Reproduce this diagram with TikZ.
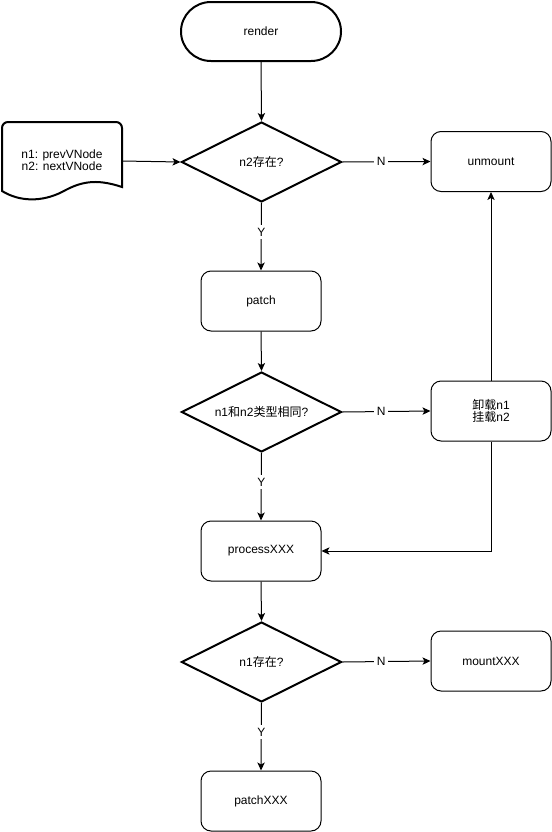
\documentclass[tikz,border=0pt]{standalone}
\usepackage{fontspec}
\setmainfont{Liberation Sans}
\newfontfamily\cjk{Noto Sans CJK SC}
\usetikzlibrary{shapes.geometric,arrows.meta}
\begin{document}
\begin{tikzpicture}[x=0.75pt,y=-0.75pt,
  font=\fontsize{9}{11}\selectfont,
  thin1/.style={line width=0.75pt},
  thick2/.style={line width=1.5pt},
  procbox/.style={draw,thin1,rounded corners=7.5pt,minimum width=90pt,minimum height=45pt,inner sep=0pt,align=center},
  decision/.style={draw,thick2,diamond,aspect=2,minimum width=120pt,minimum height=60pt,inner sep=0pt},
  conn/.style={thin1,-{Stealth[length=6pt,width=5.5pt,inset=1.5pt]}},
  lbl/.style={fill=white,inner sep=2pt}
]
\useasboundingbox (0,0) rectangle (552,832);
% terminal: draw as stadium path
\node (render) at (261,31.5) [minimum width=120pt,minimum height=44pt,inner sep=0pt] {render};
\draw[thick2] (211,2) -- (311,2) arc[start angle=90,end angle=-90,x radius=30,y radius=-29.5] -- (211,61) arc[start angle=-90,end angle=-270,x radius=30,y radius=-29.5] -- cycle;

% document shape
\node (doc) at (62,160.5) [minimum width=90pt,minimum height=59pt,inner sep=0pt,align=center] {n1: prevVNode\\[-2pt]n2: nextVNode};
\draw[thick2] (2,191) -- (2,128) arc[start angle=180,end angle=270,radius=6] -- (116,122) arc[start angle=270,end angle=360,radius=6] -- (122,187)
  .. controls (95,178) and (80,182) .. (62,192) .. controls (42,202) and (20,202) .. cycle;

\node[decision] (d1) at (261.5,162) {n2{\cjk 存在}?};
\node[procbox] (unmount) at (491,161.5) {unmount};
\node[procbox] (patch) at (261,301) {patch};
\node[decision] (d2) at (261.5,412) {n1{\cjk 和}n2{\cjk 类型相同}?};
\node[procbox] (swap) at (491,411) {{\cjk 卸载}n1\\[-2pt]{\cjk 挂载}n2};
\node[procbox] (proc) at (261,551) {processXXX};
\node[decision] (d3) at (261.5,662) {n1{\cjk 存在}?};
\node[procbox] (mount) at (491,661) {mountXXX};
\node[procbox] (patchx) at (261,801) {patchXXX};

\draw[conn] (261,61) -- (d1.north);
\draw[conn] (122,161) -- (d1.west);
\draw[conn] (d1.east) -- node[lbl,pos=0.44] {N} (unmount.west);
\draw[conn] (d1.south) -- node[lbl,pos=0.43] {Y} (patch.north);
\draw[conn] (patch.south) -- (d2.north);
\draw[conn] (d2.east) -- node[lbl,pos=0.44] {N} (swap.west);
\draw[conn] (d2.south) -- node[lbl,pos=0.43] {Y} (proc.north);
\draw[conn] (swap.north) -- (unmount.south);
\draw[conn] (swap.south) |- (proc.east);
\draw[conn] (proc.south) -- (d3.north);
\draw[conn] (d3.east) -- node[lbl,pos=0.44] {N} (mount.west);
\draw[conn] (d3.south) -- node[lbl,pos=0.43] {Y} (patchx.north);
\end{tikzpicture}
\end{document}
